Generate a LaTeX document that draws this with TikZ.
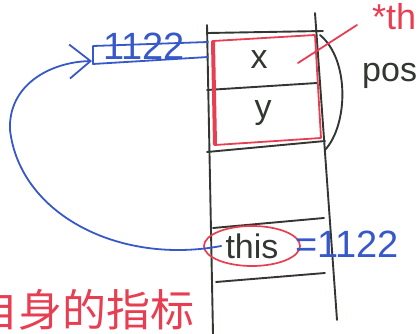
\documentclass[tikz,border=0pt]{standalone}
\usepackage{fontspec}
\setmainfont{Liberation Sans}
\newfontfamily\cjk{Noto Sans CJK SC}
\usetikzlibrary{arrows.meta,shapes.geometric}
\definecolor{inkgray}{RGB}{50,55,50}
\definecolor{penred}{RGB}{232,62,82}
\definecolor{penblue}{RGB}{55,88,200}
\begin{document}
\begin{tikzpicture}[x=1pt,y=-1pt,line cap=round,line join=round,
  ink/.style={draw=inkgray,line width=1.9pt},
  redink/.style={draw=penred,line width=1.8pt},
  blueink/.style={draw=penblue,line width=1.8pt},
  hand/.style={inner sep=0pt,text=inkgray,font=\fontsize{34}{34}\selectfont},
  bluetext/.style={inner sep=0pt,text=penblue,font=\fontsize{38}{38}\selectfont},
  redtext/.style={inner sep=0pt,text=penred}]
\useasboundingbox (0,0) rectangle (418,334);
\clip (0,0) rectangle (418,334);
% stack column
\draw[ink] (207,25) -- (213,334);
\draw[ink] (315,13) -- (337,320);
\draw[ink] (208,33) -- (323,31);
\draw[ink] (207,90) -- (317,83);
\draw[ink] (207,152) -- (325,141);
\draw[ink] (213,228) -- (324,218);
\draw[ink] (216,282) -- (325,273);
% red object frame
\draw[redink] (213,41) -- (315,35) -- (321,138) -- (215,145) -- cycle;
\draw[penred,line width=4pt] (213,42) -- (215,144);
% cells
\node[hand] (xcell) at (259,60) {x};
\node[hand] (ycell) at (263,113) {y};
% bracket and labels
\draw[ink] (320,35) .. controls (350,60) and (348,125) .. (325,150);
\node[hand,anchor=base west] (pos) at (362,82) {pos};
\node[redtext,anchor=base west,font=\fontsize{36}{36}\selectfont] (starthis) at (372,30) {*this};
\draw[redink] (298,63) -- (357,25);
% this slot
\node[ellipse,draw=penred,line width=1.7pt,minimum width=96pt,minimum height=40pt,inner sep=0pt,
      text=inkgray,font=\fontsize{34}{34}\selectfont] (thisnode) at (252,246) {this};
\node[bluetext,anchor=base west] (botaddr) at (295,257) {=1122};
% top address box
\node[bluetext,anchor=base west] (topaddr) at (103,60) {1122};
\coordinate (tip) at (92,61);
\draw[blueink] (208,42) -- (93,46) -- (93,64) -- (208,57);
% pointer curve
\draw[blueink,-{Straight Barb[length=21pt,width=34pt]}]
  ([xshift=18pt]thisnode.west) .. controls (120,265) and (20,215) .. (10,130)
  .. controls (8,85) and (50,62) .. (tip);
% caption
\node[redtext,anchor=base west,font=\cjk\fontsize{44}{44}\selectfont] (caption) at (-26,326) {自身的指标};
\end{tikzpicture}
\end{document}
